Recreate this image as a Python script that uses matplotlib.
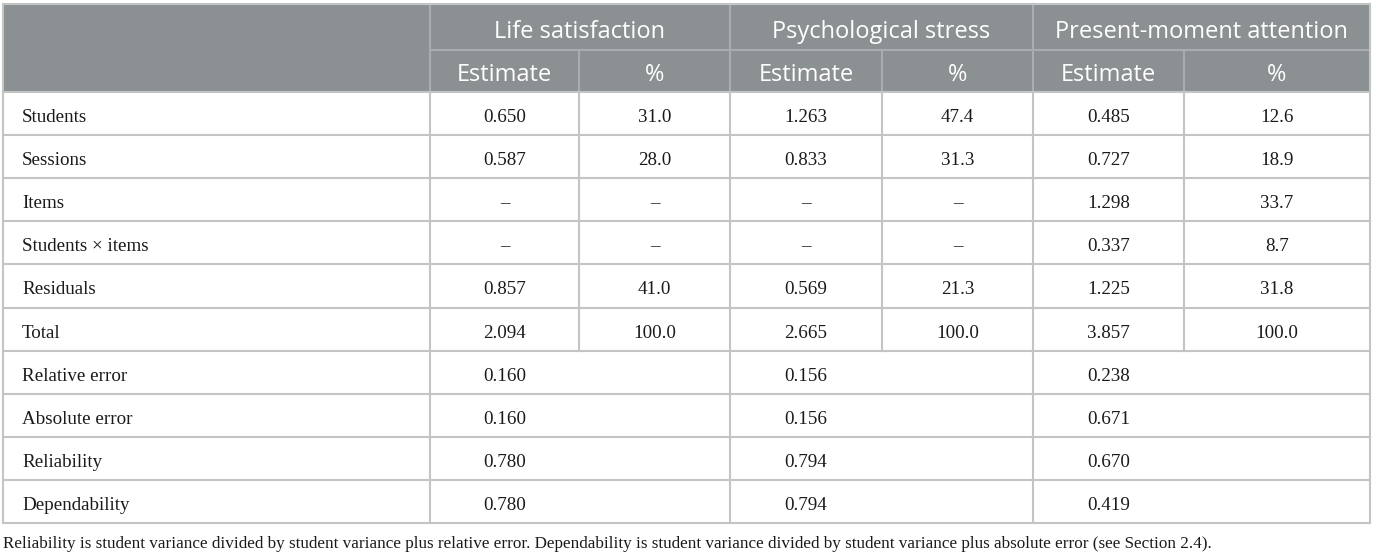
import matplotlib
matplotlib.use("Agg")
import matplotlib.pyplot as plt
from matplotlib.patches import Rectangle

# ---- data ----
groups = ["Life satisfaction", "Psychological stress", "Present-moment attention"]
subheads = ["Estimate", "%"]
row_labels = ["Students", "Sessions", "Items", "Students \u00d7 items", "Residuals",
              "Total", "Relative error", "Absolute error", "Reliability", "Dependability"]
life_est = ["0.650", "0.587", "\u2013", "\u2013", "0.857", "2.094", "0.160", "0.160", "0.780", "0.780"]
life_pct = ["31.0", "28.0", "\u2013", "\u2013", "41.0", "100.0", None, None, None, None]
stress_est = ["1.263", "0.833", "\u2013", "\u2013", "0.569", "2.665", "0.156", "0.156", "0.794", "0.794"]
stress_pct = ["47.4", "31.3", "\u2013", "\u2013", "21.3", "100.0", None, None, None, None]
attn_est = ["0.485", "0.727", "1.298", "0.337", "1.225", "3.857", "0.238", "0.671", "0.670", "0.419"]
attn_pct = ["12.6", "18.9", "33.7", "8.7", "31.8", "100.0", None, None, None, None]
footnote = ("Reliability is student variance divided by student variance plus relative error. "
            "Dependability is student variance divided by student variance plus absolute error (see Section 2.4).")

# ---- layout (pixels) ----
W, H = 1375, 556
fig = plt.figure(figsize=(W / 100, H / 100), dpi=100)
ax = fig.add_axes([0, 0, 1, 1])
ax.set_xlim(0, W)
ax.set_ylim(H, 0)
ax.axis("off")

col_x = [3, 430, 579, 730, 882, 1033, 1184, 1370]
y_top, y_mid, y_head = 4, 50, 92
row_h = 43.1
n_rows = len(row_labels)
y_bot = y_head + n_rows * row_h

header_bg = "#8b9093"
grid_c = "#c4c4c4"
lw = 1.5
sans = ["Open Sans", "DejaVu Sans"]
serif = ["Liberation Serif", "DejaVu Serif"]
txt_c = "#1a1a1a"

ax.add_patch(Rectangle((col_x[0], y_top), col_x[-1] - col_x[0], y_head - y_top,
                       facecolor=header_bg, edgecolor="none", zorder=0))

# header text
for g, name in enumerate(groups):
    x0, x1 = col_x[1 + 2 * g], col_x[3 + 2 * g]
    ax.text((x0 + x1) / 2, 29, name, ha="center", va="center_baseline",
            color="white", fontsize=17, family=sans)
    for s, sub in enumerate(subheads):
        a, b = col_x[1 + 2 * g + s], col_x[2 + 2 * g + s]
        ax.text((a + b) / 2, 72, sub, ha="center", va="center_baseline",
                color="white", fontsize=17, family=sans)

# header lines (lighter on gray)
hl = "#a9adb0"
ax.plot([col_x[1], col_x[-1]], [y_mid, y_mid], color=hl, lw=lw, zorder=1)
for x in [col_x[1], col_x[3], col_x[5]]:
    ax.plot([x, x], [y_top, y_head], color=hl, lw=lw, zorder=1)
for x in [col_x[2], col_x[4], col_x[6]]:
    ax.plot([x, x], [y_mid, y_head], color=hl, lw=lw, zorder=1)

# body
cols = [life_est, life_pct, stress_est, stress_pct, attn_est, attn_pct]
for r, lab in enumerate(row_labels):
    yc = y_head + (r + 0.5) * row_h + 2
    ax.text(col_x[0] + 19, yc, lab, ha="left", va="center_baseline", color=txt_c,
            fontsize=13.7, family=serif)
    for c, vals in enumerate(cols):
        v = vals[r]
        if v is None:
            continue
        a, b = col_x[1 + c], col_x[2 + c]
        ax.text((a + b) / 2, yc, v, ha="center", va="center_baseline", color=txt_c,
                fontsize=13.7, family=serif)

# grid lines
for r in range(n_rows + 1):
    y = y_head + r * row_h
    ax.plot([col_x[0], col_x[-1]], [y, y], color=grid_c, lw=lw, zorder=2)
ax.plot([col_x[0], col_x[-1]], [y_top, y_top], color=grid_c, lw=lw, zorder=2)
for x in [col_x[0], col_x[-1]]:
    ax.plot([x, x], [y_top, y_bot], color=grid_c, lw=lw, zorder=2)
for x in [col_x[1], col_x[3], col_x[5]]:
    ax.plot([x, x], [y_head, y_bot], color=grid_c, lw=lw, zorder=2)
merged_start = 6
for x in [col_x[2], col_x[4], col_x[6]]:
    ax.plot([x, x], [y_head, y_head + merged_start * row_h], color=grid_c, lw=lw, zorder=2)

ax.text(col_x[0], y_bot + 19, footnote, ha="left", va="center_baseline", color=txt_c,
        fontsize=12.3, family=serif)

fig.savefig("out.png", dpi=100)
